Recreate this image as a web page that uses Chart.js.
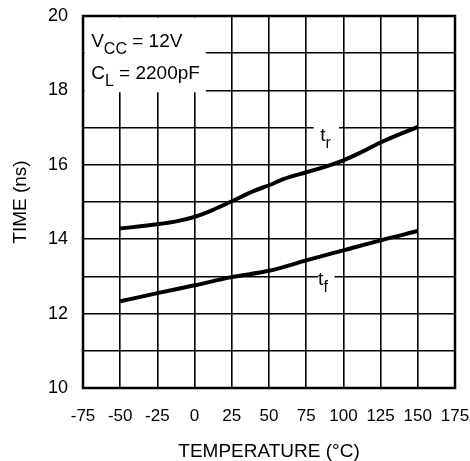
<!DOCTYPE html>
<html><head><meta charset="utf-8">
<script src="https://cdn.jsdelivr.net/npm/chart.js@4/dist/chart.umd.min.js"></script>
<style>html,body{margin:0;padding:0;background:#fff}#wrap{width:470px;height:461px}</style>
</head><body><div id="wrap"><canvas id="c"></canvas></div>
<script>
const trTemps = [-50, -25, -10, 0, 10, 25, 40, 50, 60, 75, 90, 100, 110, 125, 150];
const trValues = [14.29, 14.4, 14.5, 14.6, 14.75, 15.02, 15.3, 15.45, 15.62, 15.8, 15.98, 16.12, 16.3, 16.6, 17.02];
const tfTemps = [-50, -25, 0, 25, 50, 75, 100, 125, 150];
const tfValues = [12.33, 12.55, 12.76, 12.98, 13.15, 13.43, 13.7, 13.97, 14.22];
const xTicks = [-75, -50, -25, 0, 25, 50, 75, 100, 125, 150, 175];
const yTicks = [10, 12, 14, 16, 18, 20];

const FONT = "'Liberation Sans', Arial, sans-serif";

function noPad(s) { s.paddingTop = 0; s.paddingBottom = 0; s.paddingLeft = 0; s.paddingRight = 0; }

const annot = {
  id: 'annot',
  afterDatasetsDraw(chart) {
    const {ctx, scales: {x, y}} = chart;
    ctx.save();
    ctx.fillStyle = '#fff';
    const bx0 = x.getPixelForValue(-75) + 1.5, bx1 = x.getPixelForValue(7.5);
    const by0 = y.getPixelForValue(20) + 1.5, by1 = y.getPixelForValue(17.95);
    ctx.fillRect(bx0, by0, bx1 - bx0, by1 - by0);
    ctx.fillRect(x.getPixelForValue(80), y.getPixelForValue(17) - 3, x.getPixelForValue(97) - x.getPixelForValue(80), 6);
    ctx.fillRect(x.getPixelForValue(83), y.getPixelForValue(13) - 3, x.getPixelForValue(94) - x.getPixelForValue(83), 6);
    ctx.fillStyle = '#000';
    ctx.textBaseline = 'alphabetic';
    ctx.textAlign = 'left';
    const big = '19px ' + FONT, small = '16px ' + FONT;
    function sub(main, subs, rest, px, py) {
      ctx.font = big; ctx.fillText(main, px, py);
      let w = ctx.measureText(main).width;
      ctx.font = small; ctx.fillText(subs, px + w, py + 7);
      let w2 = ctx.measureText(subs).width;
      if (rest) { ctx.font = big; ctx.fillText(rest, px + w + w2, py); }
    }
    const tx = x.getPixelForValue(-69.5);
    sub('V', 'CC', ' = 12V', tx, y.getPixelForValue(19.2) + 1);
    sub('C', 'L', ' = 2200pF', tx, y.getPixelForValue(18.3));
    sub('t', 'r', '', x.getPixelForValue(84.5), y.getPixelForValue(16.6) - 1);
    sub('t', 'f', '', x.getPixelForValue(83), y.getPixelForValue(12.75) - 1);
    ctx.restore();
  },
  afterDraw(chart) {
    const {ctx, chartArea: a} = chart;
    ctx.save();
    ctx.strokeStyle = '#000';
    ctx.lineWidth = 2.5;
    ctx.strokeRect(a.left, a.top, a.right - a.left, a.bottom - a.top);
    ctx.restore();
  }
};

new Chart(document.getElementById('c'), {
  type: 'line',
  data: {
    datasets: [
      { label: 'tr', data: trTemps.map((t, i) => ({x: t, y: trValues[i]})) },
      { label: 'tf', data: tfTemps.map((t, i) => ({x: t, y: tfValues[i]})) }
    ]
  },
  options: {
    responsive: true,
    maintainAspectRatio: false,
    animation: false,
    devicePixelRatio: 1,
    layout: { padding: { top: 16, right: 15, left: 0, bottom: 0 } },
    elements: {
      line: { borderColor: '#000', borderWidth: 4, cubicInterpolationMode: 'monotone', fill: false },
      point: { radius: 0 }
    },
    plugins: { legend: { display: false }, tooltip: { enabled: false } },
    scales: {
      x: {
        type: 'linear', min: -75, max: 175,
        afterBuildTicks(s) { s.ticks = xTicks.map(v => ({value: v})); },
        afterFit(s) { s.height = 73; noPad(s); },
        grid: { color: '#000', lineWidth: 1.6, drawTicks: false },
        border: { display: false },
        ticks: { color: '#000', padding: 18, maxRotation: 0, autoSkip: false, font: { family: FONT, size: 17 } },
        title: { display: true, text: 'TEMPERATURE (°C)', color: '#000', padding: { top: 0, bottom: 0 }, font: { family: FONT, size: 19, lineHeight: 1 } }
      },
      y: {
        type: 'linear', min: 10, max: 20,
        ticks: { stepSize: 1, color: '#000', padding: 15, autoSkip: false,
          font: { family: FONT, size: 18 },
          callback: v => yTicks.includes(v) ? String(v) : '' },
        afterFit(s) { s.width = 83; noPad(s); },
        grid: { color: '#000', lineWidth: 1.6, drawTicks: false },
        border: { display: false },
        title: { display: true, text: 'TIME (ns)', color: '#000', padding: { top: 11, bottom: 0 }, font: { family: FONT, size: 19, lineHeight: 1 } }
      }
    }
  },
  plugins: [annot]
});
</script></body></html>
